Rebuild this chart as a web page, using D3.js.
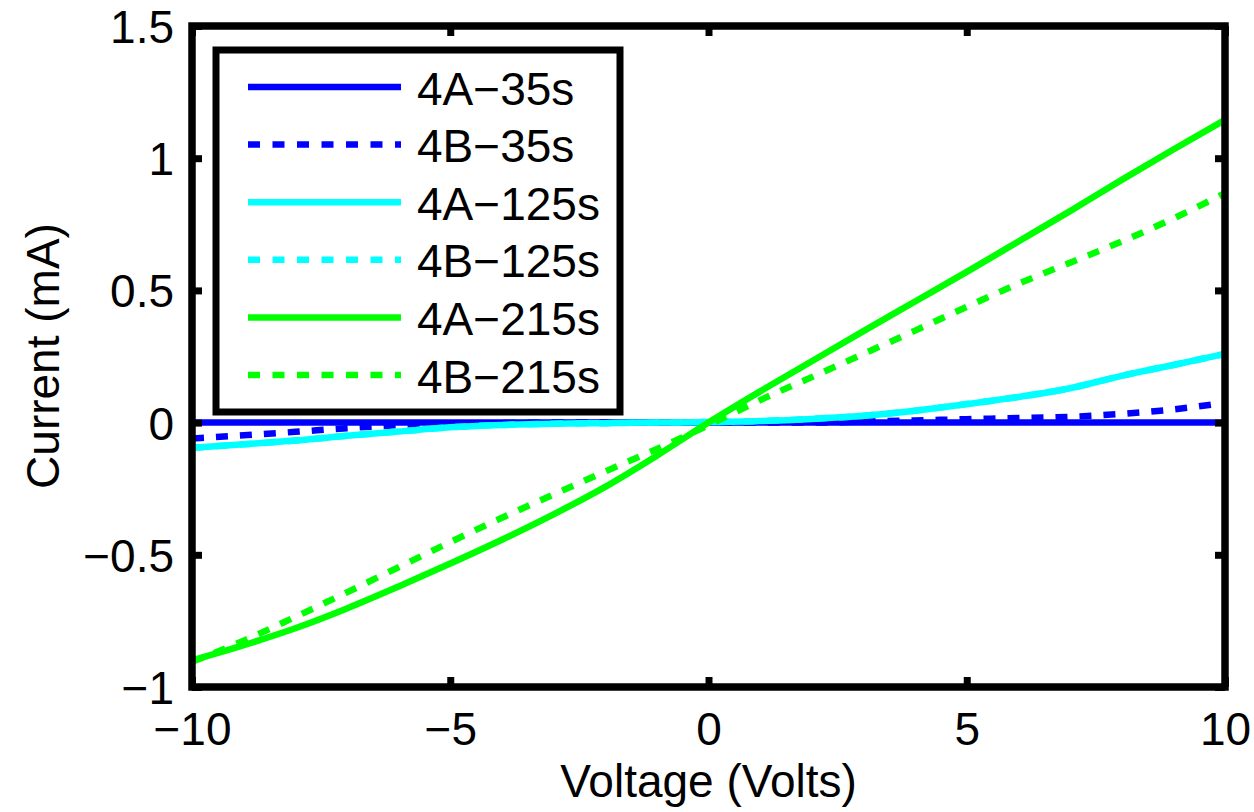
<!DOCTYPE html>
<html>
<head>
<meta charset="utf-8">
<script src="https://cdn.jsdelivr.net/npm/d3@7"></script>
<style>
  body { margin: 0; background: #fff; }
  text { font-family: "Liberation Sans", Arial, Helvetica, sans-serif; }
</style>
</head>
<body>
<div id="chart-area"></div>
<script>
// voltage sweep (V)
var volts = [-10, -9, -8, -7, -6, -5, -4, -3, -2, -1, 0, 1, 2, 3, 4, 5, 6, 7, 8, 9, 10];

// current (mA)
var i4A35  = [0, 0, 0, 0, 0, 0, 0, 0, 0, 0, 0, 0, 0, 0, 0, 0, 0, 0, 0, 0, 0];
var i4B35  = [-0.06, -0.048, -0.035, -0.021, -0.01, -0.004, -0.002, 0, 0, 0, 0, 0, 0, 0.004, 0.008, 0.013, 0.017, 0.022, 0.033, 0.05, 0.075];
var i4A125 = [-0.095, -0.082, -0.068, -0.05, -0.034, -0.018, -0.009, -0.004, -0.002, 0, 0.002, 0.006, 0.014, 0.026, 0.045, 0.07, 0.097, 0.13, 0.177, 0.218, 0.26];
var i4B125 = [-0.095, -0.082, -0.068, -0.05, -0.034, -0.018, -0.009, -0.004, -0.002, 0, 0.002, 0.006, 0.014, 0.026, 0.045, 0.07, 0.097, 0.13, 0.177, 0.218, 0.26];
var i4A215 = [-0.9, -0.842, -0.778, -0.703, -0.62, -0.533, -0.443, -0.347, -0.243, -0.125, 0, 0.118, 0.232, 0.346, 0.458, 0.57, 0.685, 0.8, 0.918, 1.033, 1.145];
var i4B215 = [-0.905, -0.825, -0.735, -0.642, -0.547, -0.452, -0.36, -0.272, -0.185, -0.1, -0.01, 0.085, 0.172, 0.26, 0.348, 0.438, 0.525, 0.605, 0.685, 0.772, 0.868];

var seriesNames = ["4A\u221235s", "4B\u221235s", "4A\u2212125s", "4B\u2212125s", "4A\u2212215s", "4B\u2212215s"];
var seriesColors = ["#0000ff", "#0000ff", "#00ffff", "#00ffff", "#00ff00", "#00ff00"];
var seriesDashed = [false, true, false, true, false, true];
var seriesValues = [i4A35, i4B35, i4A125, i4B125, i4A215, i4B215];

var xTicks = [-10, -5, 0, 5, 10];
var yTicks = [-1, -0.5, 0, 0.5, 1, 1.5];
var xTickLabels = ["\u221210", "\u22125", "0", "5", "10"];
var yTickLabels = ["\u22121", "\u22120.5", "0", "0.5", "1", "1.5"];

var margin = {left: 192, right: 29, top: 26, bottom: 125};
var width = 1254 - margin.left - margin.right;
var height = 812 - margin.top - margin.bottom;

var svg = d3.select("#chart-area")
	.append("svg")
	.attr("width", 1254)
	.attr("height", 812);

var g = svg.append("g")
	.attr("transform", "translate(" + margin.left + ", " + margin.top + ")");

var x = d3.scaleLinear()
	.domain([-10, 10])
	.range([0, width]);

var y = d3.scaleLinear()
	.domain([-1, 1.5])
	.range([height, 0]);

var line = d3.line()
	.x((d) => { return x(d[0]); })
	.y((d) => { return y(d[1]); })
	.curve(d3.curveMonotoneX);

// data lines
seriesValues.forEach((vals, k) => {
	var pts = volts.map((v, i) => { return [v, vals[i]]; });
	g.append("path")
		.datum(pts)
		.attr("fill", "none")
		.attr("stroke", seriesColors[k])
		.attr("stroke-width", 6.5)
		.attr("stroke-dasharray", seriesDashed[k] ? "12,12" : null)
		.attr("d", line);
});

// axes with inward ticks on all four sides
var fontSize = "46px";

var xAxisGroup = g.append("g")
	.attr("transform", "translate(0, " + height + ")")
	.call(d3.axisBottom(x).tickValues(xTicks).tickSize(-10).tickFormat((d, i) => { return xTickLabels[i]; }));
xAxisGroup.selectAll("text")
	.attr("y", 58)
	.attr("dy", null)
	.attr("font-size", fontSize)
	.attr("fill", "#000");

var yAxisGroup = g.append("g")
	.call(d3.axisLeft(y).tickValues(yTicks).tickSize(-10).tickFormat((d, i) => { return yTickLabels[i]; }));
yAxisGroup.selectAll("text")
	.attr("x", -18)
	.attr("dy", "16.5")
	.attr("font-size", fontSize)
	.attr("fill", "#000");

var topAxis = g.append("g")
	.call(d3.axisTop(x).tickValues(xTicks).tickSize(-10).tickFormat(""));
var rightAxis = g.append("g")
	.attr("transform", "translate(" + width + ", 0)")
	.call(d3.axisRight(y).tickValues(yTicks).tickSize(-10).tickFormat(""));

g.selectAll(".domain").remove();
g.selectAll(".tick line")
	.attr("stroke", "#000")
	.attr("stroke-width", 7);

// axes box
g.append("rect")
	.attr("x", 0)
	.attr("y", 0)
	.attr("width", width)
	.attr("height", height)
	.attr("fill", "none")
	.attr("stroke", "#000")
	.attr("stroke-width", 7.5);

// axis labels
g.append("text")
	.attr("x", width / 2)
	.attr("y", height + 110)
	.attr("font-size", fontSize)
	.attr("text-anchor", "middle")
	.text("Voltage (Volts)");

g.append("text")
	.attr("transform", "rotate(-90)")
	.attr("x", -(356 - margin.top))
	.attr("y", 59 - margin.left)
	.attr("font-size", fontSize)
	.attr("text-anchor", "middle")
	.text("Current (mA)");

// legend
var legend = svg.append("g")
	.attr("transform", "translate(216, 50)");

legend.append("rect")
	.attr("width", 404)
	.attr("height", 362)
	.attr("fill", "#fff")
	.attr("stroke", "#000")
	.attr("stroke-width", 7);

seriesNames.forEach((name, k) => {
	var row = legend.append("g")
		.attr("transform", "translate(0, " + (37 + k * 57.6) + ")");

	row.append("line")
		.attr("x1", 32)
		.attr("x2", 185)
		.attr("stroke", seriesColors[k])
		.attr("stroke-width", 6.5)
		.attr("stroke-dasharray", seriesDashed[k] ? "12,12.5" : null);

	row.append("text")
		.attr("x", 201)
		.attr("y", 17.5)
		.attr("font-size", fontSize)
		.text(name);
});
</script>
</body>
</html>
